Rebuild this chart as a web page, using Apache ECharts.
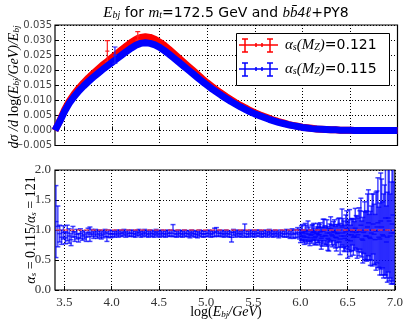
<!DOCTYPE html>
<html><head><meta charset="utf-8">
<script src="https://cdn.jsdelivr.net/npm/echarts@6/dist/echarts.min.js"></script>
<style>html,body{margin:0;padding:0;background:#fff}#c{width:406px;height:322px}</style>
</head><body><div id="c"></div>
<script>
// ---- data ----
const xTicks = [3.5, 4.0, 4.5, 5.0, 5.5, 6.0, 6.5, 7.0];
const topX = [3.40,3.45,3.50,3.55,3.60,3.65,3.70,3.75,3.80,3.85,3.90,3.95,4.00,4.05,4.10,4.15,4.20,4.25,4.30,4.35,4.40,4.45,4.50,4.55,4.60,4.65,4.70,4.75,4.80,4.85,4.90,4.95,5.00,5.05,5.10,5.15,5.20,5.25,5.30,5.35,5.40,5.45,5.50,5.55,5.60,5.65,5.70,5.75,5.80,5.85,5.90,5.95,6.00,6.05,6.10,6.15,6.20,6.25,6.30,6.35,6.40,6.45,6.50,6.55,6.60,6.65,6.70,6.75,6.80,6.85,6.90,6.95,7.00];
const redTop = [0.0000,0.0032,0.0068,0.0097,0.0120,0.0140,0.0158,0.0174,0.0189,0.0203,0.0217,0.0229,0.0242,0.0255,0.0268,0.0280,0.0292,0.0302,0.0309,0.0311,0.0309,0.0303,0.0293,0.0282,0.0269,0.0255,0.0241,0.0227,0.0213,0.0199,0.0185,0.0171,0.0158,0.0146,0.0134,0.0123,0.0112,0.0102,0.0092,0.0083,0.0075,0.0066,0.0059,0.0052,0.0046,0.0040,0.0034,0.0029,0.0025,0.0020,0.0017,0.0014,0.0011,0.0009,0.0007,0.0005,0.0004,0.0003,0.0002,0.0002,0.0001,0.0001,0.0001,0.0000,0.0000,0.0000,0.0000,0.0000,0.0000,0.0000,0.0000,0.0000,0.0000];
const blueTop = [0.0000,0.0030,0.0063,0.0090,0.0112,0.0131,0.0147,0.0162,0.0176,0.0189,0.0202,0.0214,0.0226,0.0238,0.0250,0.0262,0.0273,0.0283,0.0289,0.0291,0.0289,0.0284,0.0276,0.0265,0.0253,0.0240,0.0227,0.0214,0.0201,0.0188,0.0175,0.0162,0.0150,0.0138,0.0127,0.0116,0.0106,0.0096,0.0087,0.0078,0.0070,0.0062,0.0055,0.0049,0.0043,0.0037,0.0032,0.0027,0.0023,0.0019,0.0016,0.0013,0.0010,0.0008,0.0006,0.0005,0.0004,0.0003,0.0002,0.0002,0.0001,0.0001,0.0001,0.0000,0.0000,0.0000,0.0000,0.0000,0.0000,0.0000,0.0000,0.0000,0.0000];
// visible outlier error bars in the top panel
const redBarX = [3.95, 4.27];
const redBarY = [0.0263, 0.0314];
const redBarErr = [0.0035, 0.0014];
const blueBarX = [4.03];
const blueBarY = [0.0250];
const blueBarErr = [0.0027];
// ratio panel
const ratioX = [
3.41,3.43,3.45,3.47,3.49,3.51,3.53,3.55,3.57,3.59,
3.61,3.63,3.65,3.67,3.69,3.71,3.73,3.75,3.77,3.79,
3.81,3.83,3.85,3.87,3.89,3.91,3.93,3.95,3.97,3.99,
4.01,4.03,4.05,4.07,4.09,4.11,4.13,4.15,4.17,4.19,
4.21,4.23,4.25,4.27,4.29,4.31,4.33,4.35,4.37,4.39,
4.41,4.43,4.45,4.47,4.49,4.51,4.53,4.55,4.57,4.59,
4.61,4.63,4.65,4.67,4.69,4.71,4.73,4.75,4.77,4.79,
4.81,4.83,4.85,4.87,4.89,4.91,4.93,4.95,4.97,4.99,
5.01,5.03,5.05,5.07,5.09,5.11,5.13,5.15,5.17,5.19,
5.21,5.23,5.25,5.27,5.29,5.31,5.33,5.35,5.37,5.39,
5.41,5.43,5.45,5.47,5.49,5.51,5.53,5.55,5.57,5.59,
5.61,5.63,5.65,5.67,5.69,5.71,5.73,5.75,5.77,5.79,
5.81,5.83,5.85,5.87,5.89,5.91,5.93,5.95,5.97,5.99,
6.01,6.03,6.05,6.07,6.09,6.11,6.13,6.15,6.17,6.19,
6.21,6.23,6.25,6.27,6.29,6.31,6.33,6.35,6.37,6.39,
6.41,6.43,6.45,6.47,6.49,6.51,6.53,6.55,6.57,6.59,
6.61,6.63,6.65,6.67,6.69,6.71,6.73,6.75,6.77,6.79,
6.81,6.83,6.85,6.87,6.89,6.91,6.93,6.95,6.97,6.99,
6.00,6.02,6.04,6.06,6.08,6.10,6.12,6.14,6.16,6.18,
6.20,6.22,6.24,6.26,6.28,6.30,6.32,6.34,6.36,6.38,
6.40,6.42,6.44,6.46,6.48,6.50,6.52,6.54,6.56,6.58,
6.60,6.62,6.64,6.66,6.68,6.70,6.72,6.74,6.76,6.78,
6.80,6.82,6.84,6.86,6.88,6.90,6.92,6.94,6.96,6.98];
const ratioBlue = [
1.14,1.06,0.94,0.88,0.96,0.87,0.95,0.90,0.84,0.97,
0.89,0.93,0.87,0.94,0.90,0.92,0.88,0.96,0.93,0.95,
0.92,0.95,0.92,0.94,0.91,0.93,0.95,0.89,0.94,0.93,
0.94,0.93,0.95,0.93,0.95,0.94,0.96,0.93,0.95,0.94,
0.95,0.94,0.93,0.95,0.96,0.93,0.94,0.96,0.94,0.93,
0.95,0.94,0.93,0.96,0.94,0.93,0.95,0.94,0.93,0.95,
0.94,0.95,0.99,0.94,0.93,0.95,0.94,0.93,0.95,0.94,
0.94,0.92,0.95,0.94,0.93,0.92,0.95,0.94,0.93,0.94,
0.94,0.95,0.93,0.94,0.96,0.97,0.94,0.95,0.94,0.93,
0.95,0.94,0.93,0.88,0.96,0.93,0.95,0.94,0.93,0.95,
0.99,0.94,0.93,0.95,0.94,0.93,0.95,0.94,0.95,0.93,
0.94,0.95,0.93,0.96,0.94,0.93,0.95,0.94,0.92,0.95,
0.94,0.93,0.95,0.94,0.92,0.95,0.93,0.94,0.96,0.93,
0.95,0.90,0.97,0.88,0.93,0.91,0.96,0.87,0.94,0.92,
0.97,0.89,1.00,0.90,0.86,0.95,0.92,0.98,0.88,0.94,
1.00,0.90,0.95,0.86,1.02,0.92,0.82,0.97,0.90,0.96,
0.92,1.00,0.85,0.96,0.90,1.05,0.88,0.95,1.10,0.84,
1.05,0.88,1.15,0.92,1.00,0.80,1.20,0.90,1.10,0.95,
0.90,0.96,0.88,0.94,0.99,0.87,0.93,0.97,0.89,0.95,
0.92,0.86,0.98,0.91,0.95,0.84,1.02,0.90,0.96,0.87,
0.95,0.85,1.05,0.90,0.97,0.83,0.99,0.92,0.88,1.03,
0.88,0.97,1.08,0.83,0.99,0.90,1.12,0.86,1.00,0.93,
0.98,1.12,0.85,1.05,0.90,1.20,0.88,1.15,0.95,1.25];
const ratioErr = [
0.60,0.34,0.14,0.12,0.11,0.10,0.13,0.12,0.10,0.09,
0.08,0.08,0.07,0.08,0.07,0.07,0.07,0.07,0.12,0.06,
0.06,0.06,0.06,0.06,0.06,0.06,0.06,0.08,0.06,0.06,
0.05,0.05,0.05,0.05,0.05,0.05,0.05,0.05,0.05,0.05,
0.05,0.05,0.05,0.05,0.05,0.05,0.05,0.05,0.05,0.05,
0.05,0.05,0.05,0.05,0.05,0.05,0.05,0.05,0.05,0.05,
0.05,0.05,0.10,0.05,0.05,0.05,0.05,0.05,0.05,0.05,
0.05,0.05,0.05,0.05,0.05,0.05,0.05,0.05,0.05,0.05,
0.05,0.05,0.05,0.05,0.07,0.07,0.05,0.05,0.05,0.05,
0.05,0.05,0.05,0.08,0.05,0.05,0.05,0.05,0.05,0.05,
0.11,0.05,0.05,0.05,0.05,0.05,0.05,0.05,0.05,0.05,
0.05,0.05,0.05,0.05,0.05,0.05,0.05,0.05,0.05,0.05,
0.05,0.05,0.06,0.06,0.06,0.07,0.07,0.07,0.08,0.08,
0.12,0.10,0.14,0.11,0.12,0.10,0.13,0.12,0.11,0.13,
0.15,0.16,0.18,0.14,0.20,0.15,0.17,0.16,0.18,0.15,
0.20,0.18,0.24,0.22,0.30,0.25,0.26,0.22,0.24,0.28,
0.28,0.32,0.30,0.35,0.40,0.55,0.38,0.45,0.50,0.42,
0.60,0.50,0.80,0.55,0.75,0.60,0.90,0.70,1.00,0.85,
0.11,0.13,0.12,0.14,0.16,0.13,0.15,0.14,0.13,0.16,
0.17,0.18,0.20,0.16,0.22,0.19,0.20,0.18,0.21,0.22,
0.24,0.26,0.30,0.25,0.28,0.30,0.35,0.27,0.30,0.33,
0.35,0.40,0.45,0.38,0.48,0.42,0.55,0.45,0.60,0.50,
0.65,0.75,0.60,0.80,0.70,0.95,0.75,1.00,0.85,1.10];
const ratioRedX = [3.41, 6.99];
const ratioRedY = [1.0, 1.0];

// ---- helpers ----
const SERIF = '"Liberation Serif", "DejaVu Serif", serif';
const SANS = '"DejaVu Sans", sans-serif';
function errRender(halfBin, cap, color, width) {
  return function (params, api) {
    const x = api.value(0), y = api.value(1), e = api.value(2);
    const hi = api.coord([x, y + e]);
    const lo = api.coord([x, y - e]);
    const c = api.coord([x, y]);
    const style = { stroke: color, lineWidth: width, fill: null };
    return {
      type: 'group',
      children: [
        { type: 'line', shape: { x1: c[0], y1: hi[1], x2: c[0], y2: lo[1] }, style },
        { type: 'line', shape: { x1: c[0] - cap, y1: hi[1], x2: c[0] + cap, y2: hi[1] }, style },
        { type: 'line', shape: { x1: c[0] - cap, y1: lo[1], x2: c[0] + cap, y2: lo[1] }, style },
        { type: 'line', shape: { x1: c[0] - halfBin, y1: c[1], x2: c[0] + halfBin, y2: c[1] }, style }
      ]
    };
  };
}
const zip3 = (a, b, c) => a.map((v, i) => [v, b[i], c[i]]);
const zip2 = (a, b) => a.map((v, i) => [v, b[i]]);

const richM = { fontFamily: SERIF, fontStyle: 'italic', fontSize: 15, color: '#000' };
const richMs = { fontFamily: SERIF, fontStyle: 'italic', fontSize: 10, color: '#000', verticalAlign: 'bottom', lineHeight: 10, padding: [6, 0, 0, 0] };
const richT = { fontFamily: SANS, fontSize: 14, color: '#000' };
const richR = { fontFamily: SERIF, fontSize: 15, color: '#000' };

const xBase = (gi, showLabel) => ({
  type: 'value', gridIndex: gi, min: 3.4, max: 7.0,
  axisLine: { show: false },
  axisTick: { show: true, inside: true, length: 4, customValues: xTicks, lineStyle: { color: '#000' } },
  axisLabel: { show: showLabel, customValues: xTicks, formatter: v => v.toFixed(1), fontFamily: SERIF, fontSize: 13, color: '#333', margin: 6 },
  splitLine: { show: true, lineStyle: { type: [1, 2], color: '#000', width: 1 } }
});

const chart = echarts.init(document.getElementById('c'), null, { renderer: 'canvas' });
chart.setOption({
  animation: false,
  backgroundColor: '#fff',
  grid: [
    { left: 55, top: 25, width: 342.5, height: 120.5, show: true, borderColor: '#000', borderWidth: 1.2, backgroundColor: 'transparent' },
    { left: 55, top: 170, width: 342.5, height: 120, show: true, borderColor: '#000', borderWidth: 1.2, backgroundColor: 'transparent' }
  ],
  xAxis: [xBase(0, false), xBase(1, true)],
  yAxis: [
    { type: 'value', gridIndex: 0, min: -0.005, max: 0.035, interval: 0.005,
      axisLine: { show: false },
      axisTick: { show: true, inside: true, length: 4, lineStyle: { color: '#000' } },
      axisLabel: { fontFamily: SANS, fontSize: 10, color: '#444', margin: 3,
        formatter: v => (v < -1e-9 ? '\u2212' : '') + Math.abs(v).toFixed(3) },
      splitLine: { show: true, lineStyle: { type: [1, 2], color: '#000', width: 1 } } },
    { type: 'value', gridIndex: 1, min: 0, max: 2, interval: 0.5,
      axisLine: { show: false },
      axisTick: { show: true, inside: true, length: 4, lineStyle: { color: '#000' } },
      axisLabel: { fontFamily: SERIF, fontSize: 13, color: '#333', margin: 4, formatter: v => v.toFixed(1) },
      splitLine: { show: true, lineStyle: { type: [1, 2], color: '#000', width: 1 } } }
  ],
  series: [
    { type: 'line', xAxisIndex: 0, yAxisIndex: 0, data: zip2(topX, redTop), showSymbol: false,
      lineStyle: { color: '#ff0000', width: 7 }, z: 2 },
    { type: 'custom', xAxisIndex: 0, yAxisIndex: 0, data: zip3(redBarX, redBarY, redBarErr),
      renderItem: errRender(2, 2.5, '#ff2020', 1.2), clip: true, z: 3 },
    { type: 'line', xAxisIndex: 0, yAxisIndex: 0, data: zip2(topX, blueTop), showSymbol: false,
      lineStyle: { color: '#0000ff', width: 7 }, z: 4 },
    { type: 'custom', xAxisIndex: 0, yAxisIndex: 0, data: zip3(blueBarX, blueBarY, blueBarErr),
      renderItem: errRender(2, 2.5, '#2020ff', 1.2), clip: true, z: 5 },
    { type: 'custom', xAxisIndex: 1, yAxisIndex: 1, data: zip3(ratioX, ratioBlue, ratioErr),
      renderItem: errRender(2.5, 2.5, 'rgba(0,0,255,0.72)', 1.5), clip: true, z: 3 },
    { type: 'line', xAxisIndex: 1, yAxisIndex: 1, data: zip2(ratioRedX, ratioRedY), showSymbol: false,
      lineStyle: { color: 'rgba(255,60,60,0.75)', width: 1.5, type: [5, 2] }, z: 4 }
  ],
  graphic: [
    { type: 'text', x: 226, y: 13, z: 10,
      style: { text: '{m|E}{ms|bj}{t| for }{m|m}{ms|t}{t|=172.5 GeV and }{m|bb\u03044\u2113}{t|+PY8}',
        rich: { m: richM, ms: richMs, t: richT }, align: 'center', verticalAlign: 'middle' } },
    { type: 'text', x: 14, y: 87, rotation: Math.PI / 2, z: 10,
      style: { text: '{m|d\u03c3 /d }{r|log}{m|(E}{ms|bj}{m|/GeV)/E}{ms|bj}',
        rich: { m: Object.assign({}, richM, { fontSize: 14 }), ms: Object.assign({}, richMs, { fontSize: 9 }), r: Object.assign({}, richR, { fontSize: 14 }) },
        align: 'center', verticalAlign: 'middle' } },
    { type: 'text', x: 31, y: 230, rotation: Math.PI / 2, z: 10,
      style: { text: '{m|\u03b1}{ms|s}{r| = 0.115/}{m|\u03b1}{ms|s}{r| = 121}',
        rich: { m: Object.assign({}, richM, { fontSize: 14 }), ms: Object.assign({}, richMs, { fontSize: 9 }), r: Object.assign({}, richR, { fontSize: 14 }) },
        align: 'center', verticalAlign: 'middle' } },
    { type: 'text', x: 226, y: 312, z: 10,
      style: { text: '{r|log(}{m|E}{ms|bj}{m|/GeV}{r|)}',
        rich: { m: Object.assign({}, richM, { fontSize: 14 }), ms: Object.assign({}, richMs, { fontSize: 9 }), r: Object.assign({}, richR, { fontSize: 14 }) },
        align: 'center', verticalAlign: 'middle' } },
    // legend box
    { type: 'rect', shape: { x: 236.5, y: 33.5, width: 153, height: 52 }, style: { fill: '#fff', stroke: '#000', lineWidth: 1 }, z: 20 },
    { type: 'group', z: 21, children: [
      { type: 'line', shape: { x1: 239, y1: 45, x2: 278, y2: 45 }, style: { stroke: '#ff0000', lineWidth: 1.5 }, z: 21 },
      { type: 'line', shape: { x1: 245, y1: 39, x2: 245, y2: 52 }, style: { stroke: '#ff0000', lineWidth: 1.5 }, z: 21 },
      { type: 'line', shape: { x1: 242, y1: 39, x2: 248, y2: 39 }, style: { stroke: '#ff0000', lineWidth: 1.5 }, z: 21 },
      { type: 'line', shape: { x1: 242, y1: 52, x2: 248, y2: 52 }, style: { stroke: '#ff0000', lineWidth: 1.5 }, z: 21 },
      { type: 'line', shape: { x1: 270, y1: 39, x2: 270, y2: 52 }, style: { stroke: '#ff0000', lineWidth: 1.5 }, z: 21 },
      { type: 'line', shape: { x1: 267, y1: 39, x2: 273, y2: 39 }, style: { stroke: '#ff0000', lineWidth: 1.5 }, z: 21 },
      { type: 'line', shape: { x1: 267, y1: 52, x2: 273, y2: 52 }, style: { stroke: '#ff0000', lineWidth: 1.5 }, z: 21 },
      { type: 'line', shape: { x1: 256, y1: 43, x2: 256, y2: 47 }, style: { stroke: '#ff0000', lineWidth: 1.5 }, z: 21 },
      { type: 'line', shape: { x1: 262, y1: 43, x2: 262, y2: 47 }, style: { stroke: '#ff0000', lineWidth: 1.5 }, z: 21 },
      { type: 'line', shape: { x1: 239, y1: 69, x2: 278, y2: 69 }, style: { stroke: '#0000ff', lineWidth: 1.5 }, z: 21 },
      { type: 'line', shape: { x1: 245, y1: 63, x2: 245, y2: 76 }, style: { stroke: '#0000ff', lineWidth: 1.5 }, z: 21 },
      { type: 'line', shape: { x1: 242, y1: 63, x2: 248, y2: 63 }, style: { stroke: '#0000ff', lineWidth: 1.5 }, z: 21 },
      { type: 'line', shape: { x1: 242, y1: 76, x2: 248, y2: 76 }, style: { stroke: '#0000ff', lineWidth: 1.5 }, z: 21 },
      { type: 'line', shape: { x1: 270, y1: 63, x2: 270, y2: 76 }, style: { stroke: '#0000ff', lineWidth: 1.5 }, z: 21 },
      { type: 'line', shape: { x1: 267, y1: 63, x2: 273, y2: 63 }, style: { stroke: '#0000ff', lineWidth: 1.5 }, z: 21 },
      { type: 'line', shape: { x1: 267, y1: 76, x2: 273, y2: 76 }, style: { stroke: '#0000ff', lineWidth: 1.5 }, z: 21 },
      { type: 'line', shape: { x1: 256, y1: 67, x2: 256, y2: 71 }, style: { stroke: '#0000ff', lineWidth: 1.5 }, z: 21 },
      { type: 'line', shape: { x1: 262, y1: 67, x2: 262, y2: 71 }, style: { stroke: '#0000ff', lineWidth: 1.5 }, z: 21 }
    ] },
    { type: 'text', x: 285, y: 45, z: 22,
      style: { text: '{m|\u03b1}{ms|s}{m|(M}{ms|Z}{m|)}{t|=0.121}', rich: { m: richM, ms: richMs, t: richT }, align: 'left', verticalAlign: 'middle' } },
    { type: 'text', x: 285, y: 69, z: 22,
      style: { text: '{m|\u03b1}{ms|s}{m|(M}{ms|Z}{m|)}{t|=0.115}', rich: { m: richM, ms: richMs, t: richT }, align: 'left', verticalAlign: 'middle' } }
  ]
});
</script>
</body></html>
